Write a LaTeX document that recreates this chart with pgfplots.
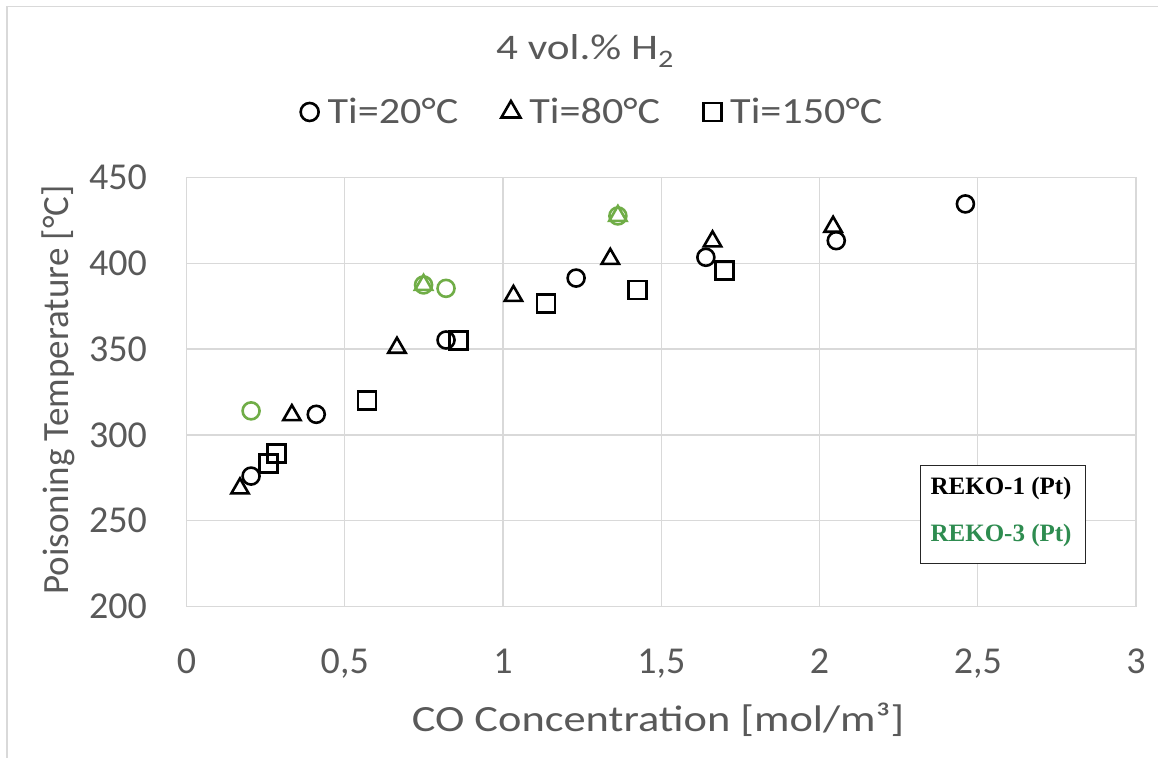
\documentclass[border=0pt]{standalone}
\usepackage{pgfplots}
\pgfplotsset{compat=1.18}
\usepackage{fontspec}
\setmainfont{Carlito}
\newfontfamily\titlefont{Carlito}[FakeStretch=1.2]
\newfontfamily\legfont{Carlito}[FakeStretch=1.14]
\newfontfamily\xlabfont{Carlito}[FakeStretch=1.2]
\newfontfamily\rekofont{Liberation Serif}
\definecolor{gridgray}{RGB}{217,217,217}
\definecolor{txtgray}{RGB}{89,89,89}
\definecolor{mkgreen}{RGB}{112,173,71}
\definecolor{rekogreen}{RGB}{46,140,80}
\pgfplotsset{legsmall/.style={legend image code/.code={\draw[##1, mark size=#1, line width=2.6bp] plot coordinates {(0bp,0bp)};}}}
\begin{document}
\begin{tikzpicture}
\useasboundingbox (-186.5bp,-151.5bp) rectangle (971.5bp,606.5bp);
\draw[gridgray, line width=1.5bp] (-179.5bp,-151.5bp) -- (-179.5bp,600bp) -- (971.5bp,600bp);
\begin{axis}[
  scale only axis, width=949.5bp, height=429bp,
  xmin=0, xmax=3, ymin=200, ymax=450,
  xtick={0,0.5,1,1.5,2,2.5,3},
  xticklabels={0,{0,5},1,{1,5},2,{2,5},3},
  ytick={200,250,300,350,400,450},
  yticklabels={200,250,300,350,400,450},
  grid=major,
  grid style={draw=gridgray, line width=1.3bp},
  axis line style={draw=gridgray, line width=1.3bp},
  major tick length=0pt,
  tick style={draw=none},
  xticklabel style={font=\fontsize{38bp}{44bp}\selectfont, text=txtgray, anchor=base, inner sep=0pt, yshift=-66.5bp},
  yticklabel style={font=\fontsize{38bp}{44bp}\selectfont, text=txtgray, anchor=east, inner sep=0pt, xshift=-39.5bp},
  xlabel={CO Concentration [mol/m³]},
  ylabel={Poisoning Temperature [°C]},
  xlabel style={font=\xlabfont\fontsize{37bp}{44bp}\selectfont, text=txtgray, at={(axis description cs:0.4966,-0.2646)}, anchor=center},
  ylabel style={font=\fontsize{37bp}{44bp}\selectfont, text=txtgray, at={(axis description cs:-0.1353,0.505)}, anchor=center, rotate=0},
  title={4 vol.\% H\textsubscript{2}},
  title style={font=\titlefont\fontsize{36bp}{44bp}\selectfont, text=txtgray, at={(axis description cs:0.4197,1.26)}, anchor=base},
  legend columns=3,
  legend style={draw=none, fill=none, at={(axis description cs:0.4276,1.1527)}, anchor=center,
    font=\legfont\fontsize{37bp}{44bp}\selectfont, text=txtgray,
    /tikz/every odd column/.append style={column sep=7bp},
    /tikz/every even column/.append style={column sep=41bp}},
]
% REKO-1 black
\addplot[only marks, mark=o, mark size=8.5bp, line width=2.6bp, black, legsmall=9bp] coordinates {
 (0.204,276) (0.41,312) (0.82,355.3) (1.231,391.4) (1.641,403.5) (2.053,413.2) (2.461,434.6)};
\addlegendentry{Ti=20°C}
\addplot[only marks, mark=triangle, mark size=10bp, line width=2.6bp, black, legsmall=11bp] coordinates {
 (0.169,268.8) (0.333,311.5) (0.665,350.8) (1.033,381) (1.339,402.6) (1.662,412.8) (2.043,421.3)};
\addlegendentry{Ti=80°C}
\addplot[only marks, mark=square, mark size=9bp, line width=2.6bp, black, legsmall=9bp] coordinates {
 (0.259,283.2) (0.285,289.3) (0.57,320) (0.86,355) (1.136,376.7) (1.425,384.4) (1.70,395.7)};
\addlegendentry{Ti=150°C}
% REKO-3 green
\addplot[only marks, mark=o, mark size=8.5bp, line width=2.6bp, mkgreen, forget plot] coordinates {
 (0.204,314) (0.749,387.4) (0.82,385.4) (1.363,427.6)};
\addplot[only marks, mark=triangle, mark size=10bp, line width=2.6bp, mkgreen, forget plot] coordinates {
 (0.749,387.4) (1.363,427.6)};
\node[draw=black!85, line width=1bp, fill=white, minimum width=165bp, minimum height=98bp, inner sep=0pt] (rk) at (axis cs:2.581,253.7) {};
\node[anchor=west, inner sep=0pt, font=\rekofont\bfseries\fontsize{25bp}{30bp}\selectfont, text=black] at ([xshift=10bp,yshift=26bp]rk.west) {REKO-1 (Pt)};
\node[anchor=west, inner sep=0pt, font=\rekofont\bfseries\fontsize{25bp}{30bp}\selectfont, text=rekogreen] at ([xshift=10bp,yshift=-21bp]rk.west) {REKO-3 (Pt)};
\end{axis}
\end{tikzpicture}
\end{document}
